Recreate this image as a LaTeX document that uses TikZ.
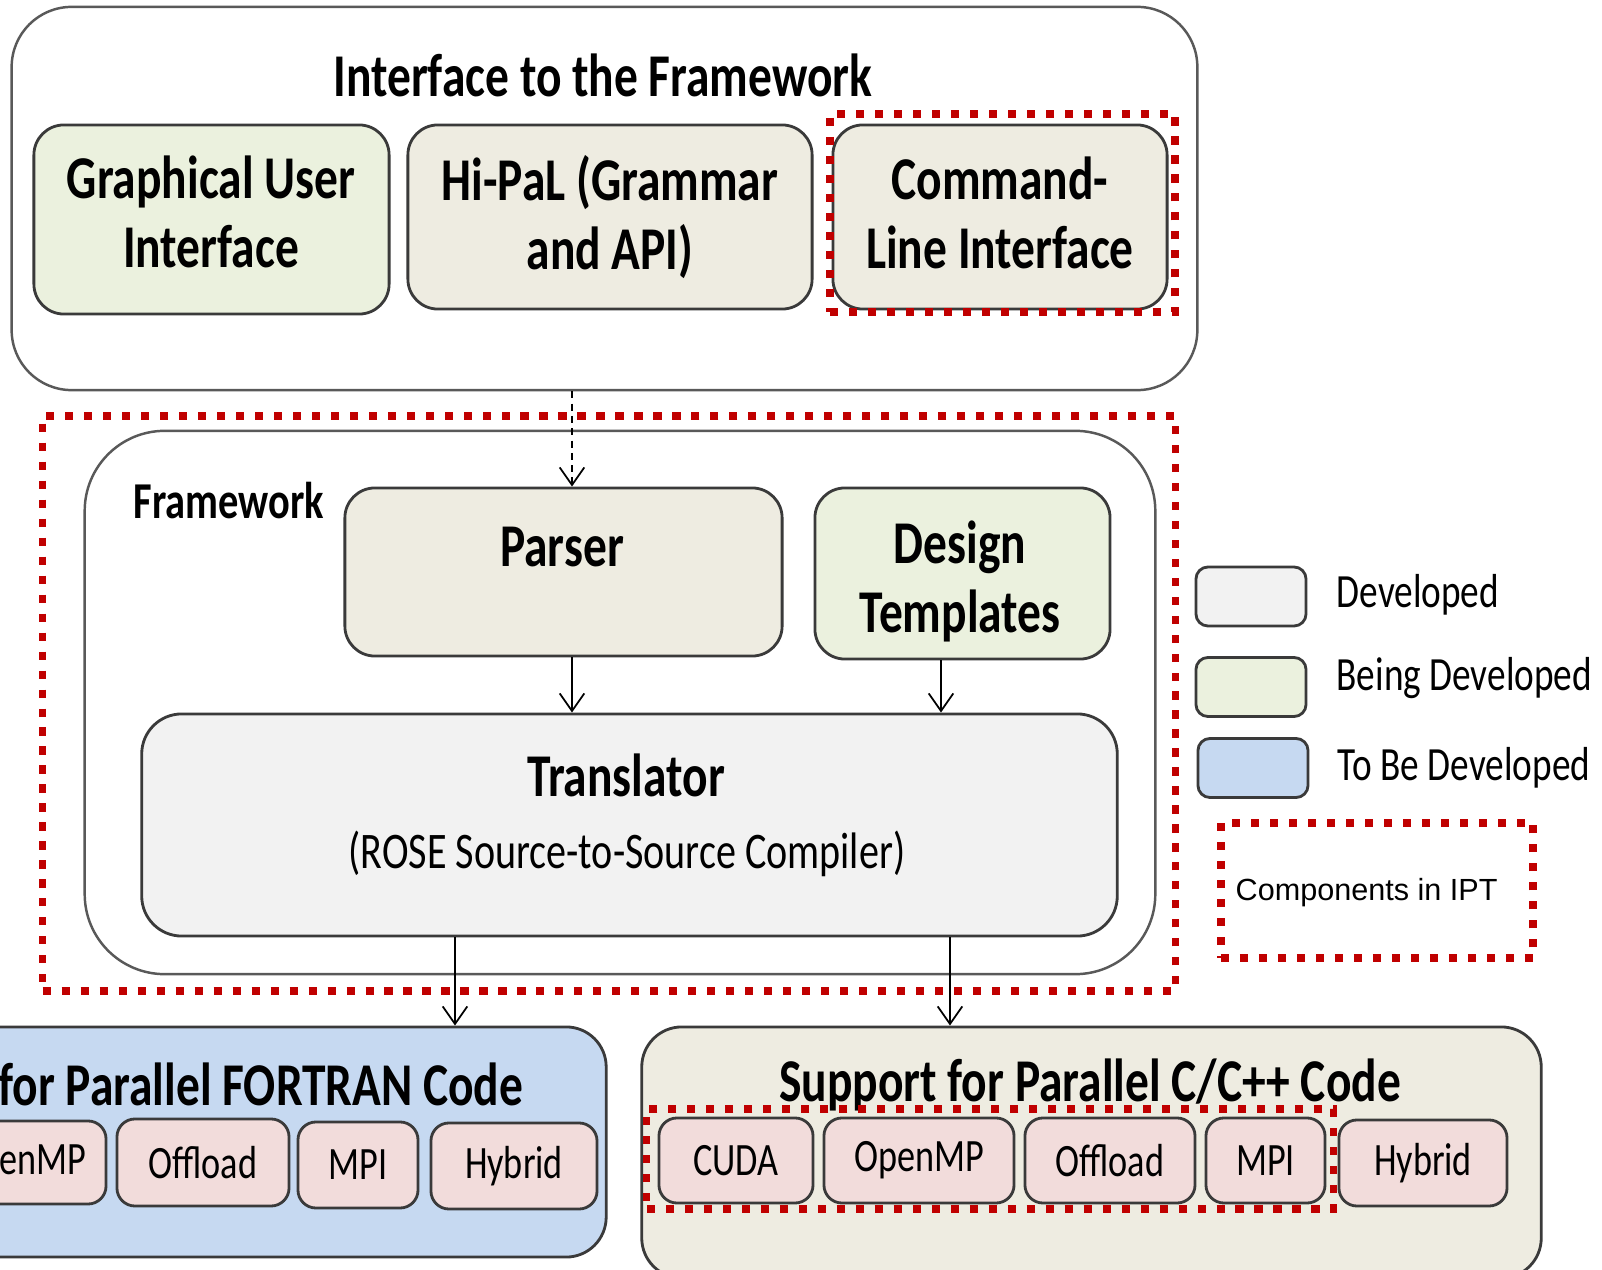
\documentclass[tikz,border=0pt]{standalone}
\usepackage{fontspec}
\setmainfont{Carlito}
\newfontfamily\arialfont{Liberation Sans}
\usepackage{graphicx}
\usetikzlibrary{arrows.meta}

\definecolor{devgray}{HTML}{F2F2F2}
\definecolor{devgreen}{HTML}{EBF1DE}
\definecolor{devbeige}{HTML}{EEECE1}
\definecolor{devblue}{HTML}{C6D9F1}
\definecolor{chippink}{HTML}{F2DCDB}
\definecolor{iptred}{HTML}{C00000}
\definecolor{boxedge}{HTML}{3A3A3A}

% slightly taller glyphs for the labels
\newcommand{\tall}[1]{\scalebox{1}[1.28]{#1}}

\begin{document}
\begin{tikzpicture}[x=0.01cm, y=-0.01cm,
    >={Straight Barb[length=5pt, width=7pt]},
    box/.style={draw=boxedge, line width=0.8pt, rounded corners=0.3cm, inner sep=0pt},
    outerbox/.style={draw=black!65, line width=0.7pt, fill=white, inner sep=0pt},
    ipt/.style={draw=iptred, line width=2.1pt, dash pattern=on 2.3pt off 3.1pt, inner sep=0pt},
    chipfont/.style={font=\fontsize{10.3}{12}\selectfont},
    chip/.style={box, fill=chippink, rounded corners=0.18cm, minimum height=0.85cm, chipfont},
    head/.style={font=\fontsize{13.5}{19.6}\selectfont\bfseries, align=center},
    note/.style={font=\fontsize{10.6}{12}\selectfont, anchor=west, inner sep=0pt},
    swatch/.style={box, rounded corners=0.12cm, minimum width=1.1cm, minimum height=0.59cm},
    flow/.style={->, line width=0.5pt}]
    % Page
    \useasboundingbox (0,0) rectangle (1602,1270);
    \clip (0,0) rectangle (1602,1270);

    % Interface to the framework
    \node[outerbox, rounded corners=0.6cm, minimum width=11.85cm, minimum height=3.83cm] (iface) at (604.5,198.5) {};
    \node[head] (ifacetitle) at (603,75) {\tall{Interface to the Framework}};
    \node[box, fill=devgreen, minimum width=3.55cm, minimum height=1.89cm] (gui) at (211.5,219.5) {};
    \node[head] (guitxt) at (211,212) {\tall{Graphical User}\\\tall{Interface}};
    \node[box, fill=devbeige, head, minimum width=4.04cm, minimum height=1.84cm] (hipal) at (610,217) {\tall{Hi-PaL (Grammar}\\\tall{and API)}};
    \node[box, fill=devbeige, minimum width=3.34cm, minimum height=1.84cm] (cli) at (1000,217) {};
    \node[head] (clitxt) at (1000,213) {\tall{Command-}\\\tall{Line Interface}};
    \node[ipt, minimum width=3.45cm, minimum height=1.98cm] (cliipt) at (1002.5,213) {};

    % Framework
    \node[ipt, minimum width=11.32cm, minimum height=5.75cm] (fwipt) at (609,703.5) {};
    \node[outerbox, rounded corners=0.8cm, minimum width=10.7cm, minimum height=5.43cm] (fw) at (620,702.5) {};
    \node[font=\fontsize{11.5}{14}\selectfont\bfseries, anchor=west, inner sep=0pt] (fwlabel) at (133,501) {\tall{Framework}};
    \node[box, fill=devbeige, minimum width=4.37cm, minimum height=1.68cm] (parser) at (563.5,572) {};
    \node[head] (parsertxt) at (562,547) {\tall{Parser}};
    \node[box, fill=devgreen, minimum width=2.95cm, minimum height=1.71cm] (design) at (962.5,573.5) {};
    \node[head] (designtxt) at (960,581) {\tall{Design}\\\tall{Templates}};
    \node[box, fill=devgray, rounded corners=0.4cm, minimum width=9.75cm, minimum height=2.22cm] (trans) at (629.5,825) {};
    \node[head] (transtxt) at (626,775) {\tall{Translator}};
    \node[font=\fontsize{11.4}{13}\selectfont] (rosetxt) at (627,854) {\tall{(ROSE Source-to-Source Compiler)}};

    % FORTRAN targets
    \node[box, fill=devblue, rounded corners=0.4cm, minimum width=7.06cm, minimum height=2.3cm] (fortran) at (253,1142) {};
    \node[head, anchor=east, inner sep=0pt] (fortrantitle) at (524,1084) {\tall{for Parallel FORTRAN Code}};
    \node[chip, minimum width=1.66cm, minimum height=0.83cm] (fomp) at (23,1162.5) {};
    \node[chipfont, anchor=east, inner sep=0pt] (fomptxt) at (87,1160) {\tall{enMP}};
    \node[chip, minimum width=1.72cm, minimum height=0.87cm] (foff) at (203,1162.5) {\tall{Offload}};
    \node[chip, minimum width=1.2cm, minimum height=0.86cm] (fmpi) at (358,1165) {\tall{MPI}};
    \node[chip, minimum width=1.66cm, minimum height=0.86cm] (fhyb) at (514,1166) {\tall{Hybrid}};

    % C/C++ targets
    \node[box, fill=devbeige, rounded corners=0.4cm, minimum width=8.99cm, minimum height=2.51cm] (cxx) at (1091.5,1152.5) {};
    \node[head] (cxxtitle) at (1090,1085) {\tall{Support for Parallel C/C++ Code}};
    \node[chip, minimum width=1.54cm] (ccuda) at (736,1160.5) {\tall{CUDA}};
    \node[chip, minimum width=1.9cm] (comp) at (919,1160.5) {\tall{OpenMP}};
    \node[chip, minimum width=1.7cm] (coff) at (1110,1160.5) {\tall{Offload}};
    \node[chip, minimum width=1.19cm] (cmpi) at (1265.5,1160.5) {\tall{MPI}};
    \node[chip, minimum width=1.68cm, minimum height=0.86cm] (chyb) at (1423,1163) {\tall{Hybrid}};
    \node[ipt, minimum width=6.86cm, minimum height=1cm] (cxxipt) at (990,1159) {};

    % Arrows
    \coordinate (px) at (572,0);
    \coordinate (dx) at (941,0);
    \coordinate (lx) at (455,0);
    \coordinate (rx) at (950,0);
    \draw[flow, dash pattern=on 2pt off 1.5pt] (iface.south -| px) -- (parser.north -| px);
    \draw[flow] (parser.south -| px) -- (trans.north -| px);
    \draw[flow] (design.south -| dx) -- (trans.north -| dx);
    \draw[flow] (trans.south -| lx) -- (fortran.north -| lx);
    \draw[flow] (trans.south -| rx) -- (cxx.north -| rx);

    % Legend
    \node[swatch, fill=devgray] (keydev) at (1251,596.5) {};
    \node[note] (keydevtxt) at (1336,595) {\tall{Developed}};
    \node[swatch, fill=devgreen] (keybeing) at (1251,687) {};
    \node[note] (keybeingtxt) at (1336,678) {\tall{Being Developed}};
    \node[swatch, fill=devblue] (keytobe) at (1253,768) {};
    \node[note] (keytobetxt) at (1337,768) {\tall{To Be Developed}};
    \node[ipt, minimum width=3.12cm, minimum height=1.35cm] (keyipt) at (1377,890.5) {};
    \node[anchor=west, inner sep=0pt, font=\arialfont\fontsize{8.7}{10}\selectfont] (keyipttxt) at (1235,893) {Components in IPT};
\end{tikzpicture}
\end{document}
